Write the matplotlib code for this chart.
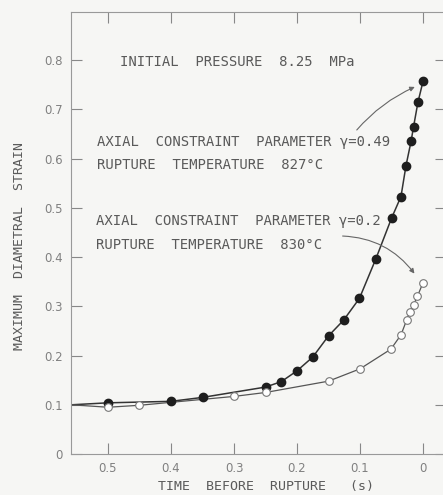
import matplotlib
matplotlib.use('Agg')
import matplotlib.pyplot as plt

# gamma = 0.49 (filled circles)
t_filled = [0.5, 0.4, 0.35, 0.25, 0.225, 0.2, 0.175, 0.15, 0.126, 0.101, 0.075,
            0.05, 0.035, 0.027, 0.019, 0.015, 0.008, 0.0]
s_filled = [0.104, 0.107, 0.115, 0.136, 0.147, 0.169, 0.197, 0.240, 0.272, 0.316, 0.396,
            0.479, 0.523, 0.586, 0.635, 0.665, 0.715, 0.757]

# gamma = 0.2 (open circles)
t_open = [0.5, 0.45, 0.3, 0.25, 0.15, 0.1, 0.051, 0.035, 0.026, 0.021, 0.015, 0.009, 0.0]
s_open = [0.095, 0.099, 0.117, 0.125, 0.148, 0.173, 0.213, 0.242, 0.272, 0.289, 0.303, 0.320, 0.348]

# curves start at the left edge of the plot
t_start = 0.558
s_start = 0.1

xticks = [0.5, 0.4, 0.3, 0.2, 0.1, 0.0]
xticklabels = ['0.5', '0.4', '0.3', '0.2', '0.1', '0']
yticks = [0, 0.1, 0.2, 0.3, 0.4, 0.5, 0.6, 0.7, 0.8]
yticklabels = ['0', '0.1', '0.2', '0.3', '0.4', '0.5', '0.6', '0.7', '0.8']

txt = '#5a5a5a'
bg = '#f6f6f4'
mono = ['DejaVu Sans Mono', 'DejaVu Sans']

plt.rcParams['font.family'] = ['DejaVu Sans']

fig = plt.figure(figsize=(4.43, 4.95), dpi=100, facecolor=bg)
ax = fig.add_axes([0.1603, 0.0828, 0.8465, 0.893])
ax.set_facecolor(bg)

# curves
ax.plot([t_start] + t_filled, [s_start] + s_filled, color='#333333', lw=1.1)
ax.plot([t_start] + t_open, [s_start] + s_open, color='#555555', lw=0.9)

# markers
ax.plot(t_filled, s_filled, 'o', ms=6, color='#1e1e1e', mec='#1e1e1e')
ax.plot(t_open, s_open, 'o', ms=5.5, mfc='white', mec='#777777', mew=0.8)

ax.set_xlim(0.5587, -0.0365)
ax.set_ylim(0, 0.898)

ax.set_xticks(xticks)
ax.set_xticklabels(xticklabels)
ax.set_yticks(yticks)
ax.set_yticklabels(yticklabels)
ax.tick_params(direction='in', length=8, width=0.8, color='#888888',
               labelsize=8.5, labelcolor='#808080', top=True, right=True, pad=6)

for side in ['left', 'bottom', 'top']:
    ax.spines[side].set_color('#999999')
    ax.spines[side].set_linewidth(0.8)
ax.spines['right'].set_visible(False)

ax.set_xlabel('TIME  BEFORE  RUPTURE   (s)', fontsize=9.5, color=txt,
              family=mono)
ax.set_ylabel('MAXIMUM  DIAMETRAL  STRAIN', fontsize=9.5, color=txt, family=mono)
ax.yaxis.set_label_coords(-0.12, 0.47)
ax.xaxis.set_label_coords(0.52, -0.058)

# text annotations
fs = 10
ax.text(0.481, 0.797, 'INITIAL  PRESSURE  8.25  MPa', fontsize=fs, color=txt,
        va='center', family=mono)
ax.text(0.517, 0.634, 'AXIAL  CONSTRAINT  PARAMETER γ=0.49', fontsize=fs, color=txt,
        va='center', family=mono)
ax.text(0.517, 0.587, 'RUPTURE  TEMPERATURE  827°C', fontsize=fs, color=txt,
        va='center', family=mono)
ax.text(0.519, 0.474, 'AXIAL  CONSTRAINT  PARAMETER γ=0.2', fontsize=fs, color=txt,
        va='center', family=mono)
ax.text(0.519, 0.425, 'RUPTURE  TEMPERATURE  830°C', fontsize=fs, color=txt,
        va='center', family=mono)

ax.annotate('', xy=(0.009, 0.748), xytext=(0.108, 0.654),
            arrowprops=dict(arrowstyle='-|>', color='#666666', lw=0.8,
                            mutation_scale=7, connectionstyle='arc3,rad=-0.12'))
ax.annotate('', xy=(0.011, 0.362), xytext=(0.132, 0.443),
            arrowprops=dict(arrowstyle='-|>', color='#666666', lw=0.8,
                            mutation_scale=7, connectionstyle='arc3,rad=-0.25'))

plt.savefig('out.png', dpi=100, facecolor=bg)
